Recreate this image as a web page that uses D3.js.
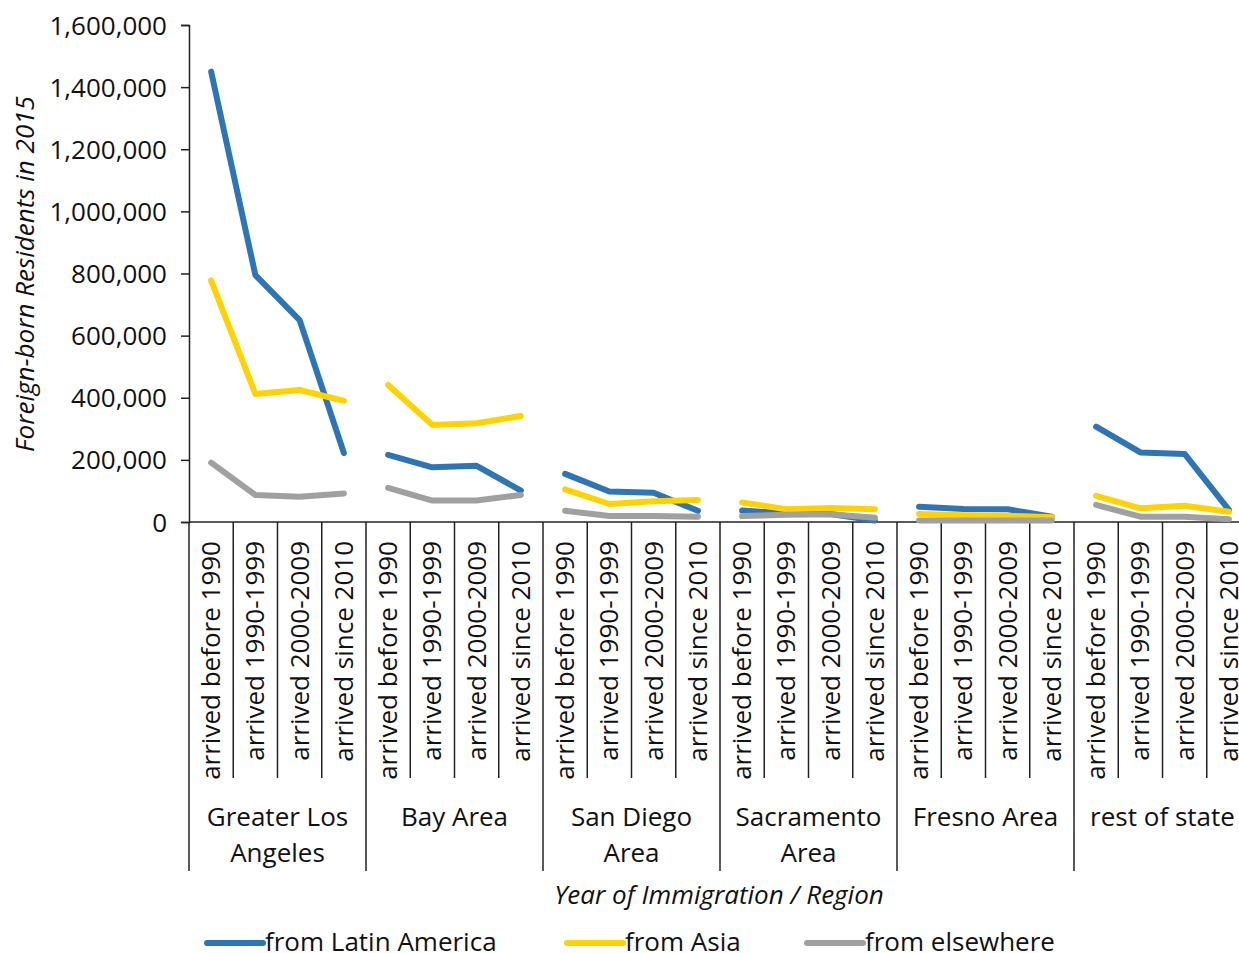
<!DOCTYPE html>
<html>
<head>
<meta charset="utf-8">
<script src="https://cdn.jsdelivr.net/npm/d3@7"></script>
<style>
  html, body { margin: 0; padding: 0; background: #fff; overflow: hidden; }
  svg { display: block; font-family: "Open Sans", sans-serif; }
</style>
</head>
<body>
<svg id="chart" width="1239" height="953"></svg>
<script>
const regions = ["Greater Los Angeles", "Bay Area", "San Diego Area", "Sacramento Area", "Fresno Area", "rest of state"];
const regionLines = [["Greater Los", "Angeles"], ["Bay Area"], ["San Diego", "Area"], ["Sacramento", "Area"], ["Fresno Area"], ["rest of state"]];
const periods = ["arrived before 1990", "arrived 1990-1999", "arrived 2000-2009", "arrived since 2010"];
const seriesNames = ["from Latin America", "from Asia", "from elsewhere"];
const latinAmerica = [1450000, 795000, 650000, 222000, 216000, 176000, 181000, 101000, 155000, 98000, 94000, 36000, 37000, 28000, 26000, 5000, 49000, 42000, 41000, 17000, 307000, 224000, 219000, 39000];
const asia = [777000, 412000, 425000, 390000, 441000, 312000, 318000, 341000, 105000, 58000, 67000, 71000, 63000, 41000, 45000, 41000, 26000, 22000, 20000, 15000, 84000, 44000, 52000, 33000];
const elsewhere = [191000, 87000, 81000, 92000, 110000, 69000, 69000, 87000, 36000, 19000, 19000, 17000, 19000, 23000, 25000, 14000, 5000, 5000, 5000, 5000, 55000, 17000, 17000, 9000];
const yTicks = [0, 200000, 400000, 600000, 800000, 1000000, 1200000, 1400000, 1600000];
const colors = ["#2E75B6", "#FFD200", "#A0A0A0"];

(function () {
const svg = d3.select("#chart");
const left = 189, plotTop = 25, bottom = 522, catW = 44.25;
const categories = [];
regions.forEach((r, gi) => periods.forEach((p, pi) => categories.push({ key: gi + "|" + pi, region: r, period: p, gi })));

const x = d3.scaleBand().domain(categories.map(c => c.key)).range([left, left + catW * categories.length]).padding(0);
const y = d3.scaleLinear().domain([0, 1600000]).range([bottom, plotTop]);

const fontSize = 26;
const txt = "#111";

// Y axis
const yAxis = d3.axisLeft(y).tickValues(yTicks).tickFormat(d3.format(",")).tickSize(8).tickPadding(14);
const yg = svg.append("g").attr("transform", `translate(${left},0)`).call(yAxis);
yg.select(".domain").attr("stroke", "#222").attr("stroke-width", 1.5);
yg.selectAll(".tick line").attr("stroke", "#222").attr("stroke-width", 1.5);
yg.selectAll(".tick text").attr("font-size", fontSize).attr("font-family", "Open Sans").attr("fill", txt).attr("dy", "0.35em");

// X axis baseline
svg.append("line").attr("x1", left).attr("x2", left + catW * categories.length).attr("y1", bottom).attr("y2", bottom)
  .attr("stroke", "#222").attr("stroke-width", 1.5);

// separators
const boundaries = d3.range(categories.length + 1);
svg.append("g").selectAll("line").data(boundaries).join("line")
  .attr("x1", i => left + i * catW).attr("x2", i => left + i * catW)
  .attr("y1", bottom)
  .attr("y2", i => i % 4 === 0 ? 871 : 778)
  .attr("stroke", "#222").attr("stroke-width", 1.5);

// category labels
svg.append("g").selectAll("text").data(categories).join("text")
  .attr("transform", d => `translate(${x(d.key) + x.bandwidth() / 2 + 9},541) rotate(-90)`)
  .attr("text-anchor", "end")
  .attr("font-size", fontSize)
  .attr("fill", txt)
  .text(d => d.period);

// region labels
const rg = svg.append("g");
regionLines.forEach((lines, gi) => {
  const cx = left + (gi * 4 + 2) * catW;
  lines.forEach((ln, li) => {
    rg.append("text").attr("x", cx).attr("y", 826 + li * 36).attr("text-anchor", "middle")
      .attr("font-size", fontSize).attr("fill", txt).text(ln);
  });
});

// axis titles
svg.append("text").attr("x", 719).attr("y", 904).attr("text-anchor", "middle")
  .attr("font-size", fontSize).attr("font-style", "italic").attr("fill", txt)
  .text("Year of Immigration / Region");
svg.append("text").attr("transform", "translate(34,274) rotate(-90)").attr("text-anchor", "middle")
  .attr("font-size", fontSize).attr("font-style", "italic").attr("fill", txt)
  .text("Foreign-born Residents in 2015");

// lines, one segment per region
const allSeries = [latinAmerica, asia, elsewhere];
const line = d3.line().x(d => x(d.key) + x.bandwidth() / 2).y(d => y(d.v));
allSeries.forEach((vals, si) => {
  regions.forEach((r, gi) => {
    const pts = categories.map((c, i) => ({ key: c.key, gi: c.gi, v: vals[i] })).filter(p => p.gi === gi);
    svg.append("path").datum(pts).attr("d", line).attr("fill", "none")
      .attr("stroke", colors[si]).attr("stroke-width", 6)
      .attr("stroke-linecap", "round").attr("stroke-linejoin", "round");
  });
});

// legend
const legendX = [207, 567, 807];
seriesNames.forEach((name, si) => {
  const lx = legendX[si];
  svg.append("line").attr("x1", lx).attr("x2", lx + 56).attr("y1", 943).attr("y2", 943)
    .attr("stroke", colors[si]).attr("stroke-width", 6).attr("stroke-linecap", "round");
  svg.append("text").attr("x", lx + 58).attr("y", 951).attr("font-size", fontSize).attr("fill", txt).text(name);
});
})();
</script>
</body>
</html>
